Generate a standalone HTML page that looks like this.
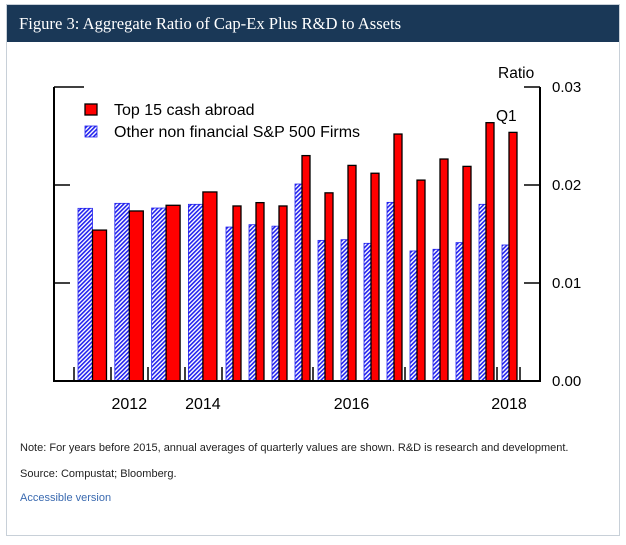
<!DOCTYPE html>
<html><head><meta charset="utf-8"><style>
body{margin:0;background:#fff;width:626px;height:540px;overflow:hidden;font-family:"Liberation Sans",sans-serif}
</style></head><body>
<svg width="626" height="540" xmlns="http://www.w3.org/2000/svg">
<defs>
<pattern id="hatch" width="3" height="3" patternUnits="userSpaceOnUse" patternTransform="rotate(45)">
<rect width="3" height="3" fill="#fff"/><rect width="1.6" height="3" fill="#2222ee"/>
</pattern>
</defs>
<rect x="6.5" y="4.5" width="613" height="531" fill="#fff" stroke="#c8d0d8"/>
<rect x="7" y="5" width="612" height="37" fill="#1a3857"/>
<text x="19" y="29" fill="#fff" font-family="Liberation Serif,serif" font-size="16.6">Figure 3: Aggregate Ratio of Cap-Ex Plus R&amp;D to Assets</text>
<g id="plot"></g>
<text x="20" y="451" font-size="11" fill="#222">Note: For years before 2015, annual averages of quarterly values are shown. R&amp;D is research and development.</text>
<text x="20" y="477" font-size="11" fill="#222">Source: Compustat; Bloomberg.</text>
<text x="20" y="501" font-size="11" fill="#3a6ab0">Accessible version</text>
</svg>
<script>
const categories=["2011","2012","2013","2014","2015Q1","2015Q2","2015Q3","2015Q4","2016Q1","2016Q2","2016Q3","2016Q4","2017Q1","2017Q2","2017Q3","2017Q4","2018Q1"];
const redValues=[0.0154,0.01735,0.01793,0.01929,0.01786,0.0182,0.01786,0.0230,0.0192,0.0220,0.0212,0.0252,0.0205,0.02265,0.0219,0.02636,0.02537];
const blueValues=[0.01762,0.01813,0.01765,0.01803,0.01571,0.01595,0.0158,0.0201,0.01435,0.01442,0.01405,0.01823,0.01327,0.01344,0.01412,0.01803,0.01388];
const yTicks=[0,0.01,0.02,0.03];
const yTickLabels=["0.00","0.01","0.02","0.03"];
const xLabels=["2012","2014","2016","2018"];
const xLabelCats=[1,3,9.5,16];
const NS="http://www.w3.org/2000/svg";
const g=document.getElementById('plot');
const L=54,R=540,T=87,B=381;
function y(v){return B-(v/0.03)*(B-T);}
function mk(tag,attrs){const e=document.createElementNS(NS,tag);for(const k in attrs)e.setAttribute(k,attrs[k]);g.appendChild(e);return e;}
function groupLeft(i){return i<4?78+i*36.8:226+(i-4)*23;}
function groupCenter(i){return i<4?groupLeft(i)+14.5:groupLeft(i)+7;}
categories.forEach((c,i)=>{
  const w=i<4?14.5:7;const x0=groupLeft(i);
  let e=mk('rect',{x:x0,y:y(blueValues[i]),width:w,height:B-y(blueValues[i]),fill:'url(#hatch)',stroke:'#2222ee','stroke-width':0.8});
  
  
  const rw=i<4?14:8;
  e=mk('rect',{x:x0+w,y:y(redValues[i]),width:rw,height:B-y(redValues[i]),fill:'#ff0000',stroke:'#000','stroke-width':1.3});
  
  
});
let a=mk('path',{d:`M${L} ${T}V${B}H${R}V${T}`,fill:'none',stroke:'#000','stroke-width':2});


yTicks.forEach((v,i)=>{
  if(v>0){
    let t=mk('line',{x1:R-16,x2:R,y1:y(v),y2:y(v),stroke:'#000','stroke-width':1.5});
    
    
    t=mk('line',{x1:L,x2:L+(v==0.03?30:16),y1:y(v),y2:y(v),stroke:'#000','stroke-width':1.5});
    
    
  }
  const tx=mk('text',{x:552,y:y(v)+5,'font-size':15,fill:'#000'});tx.textContent=yTickLabels[i];
  
  
});
const yt=mk('text',{x:498,y:78,'font-size':15.5,fill:'#000'});yt.textContent='Ratio';


[74,111,148,185,222,313,405,497,520].forEach(xx=>{
  const t=mk('line',{x1:xx,x2:xx,y1:B-14,y2:B,stroke:'#000','stroke-width':1.5});
  
  
});
xLabels.forEach((lab,i)=>{
  const p=xLabelCats[i];const cx=p%1?(groupCenter(Math.floor(p))+groupCenter(Math.ceil(p)))/2-8:groupCenter(p);
  const t=mk('text',{x:cx,y:409,'font-size':16,'text-anchor':'middle',fill:'#000'});t.textContent=lab;
  
  
});
const q=mk('text',{x:496,y:121,'font-size':15.5,fill:'#000'});q.textContent='Q1';


let lr=mk('rect',{x:85,y:104,width:12,height:11,fill:'#ff0000',stroke:'#000','stroke-width':1.3});


let lt=mk('text',{x:114,y:115,'font-size':16,fill:'#000'});lt.textContent='Top 15 cash abroad';


lr=mk('rect',{x:85,y:126,width:12,height:11,fill:'url(#hatch)',stroke:'#2222ee','stroke-width':0.8});


lt=mk('text',{x:114,y:137,'font-size':16,fill:'#000'});lt.textContent='Other non financial S&P 500 Firms';


</script>
</body></html>
